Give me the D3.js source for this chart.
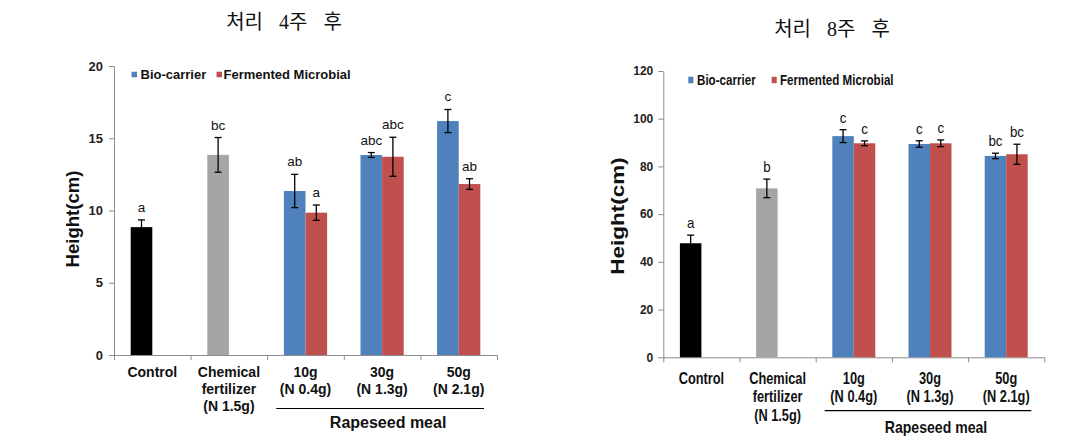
<!DOCTYPE html>
<html>
<head>
<meta charset="utf-8">
<script src="https://cdn.jsdelivr.net/npm/d3@7"></script>
<style>
  html, body { margin: 0; padding: 0; background: #fff; }
  svg { display: block; }
  text { font-family: "Liberation Sans", Arial, sans-serif; }
</style>
</head>
<body>
<svg id="chart" width="1084" height="443"></svg>
<script>
// ---------------- DATA ----------------
const categories = ["Control", "Chemical fertilizer (N 1.5g)", "10g (N 0.4g)", "30g (N 1.3g)", "50g (N 2.1g)"];
const categoryLines = [["Control"], ["Chemical", "fertilizer", "(N 1.5g)"], ["10g", "(N 0.4g)"], ["30g", "(N 1.3g)"], ["50g", "(N 2.1g)"]];
const seriesNames = ["Bio-carrier", "Fermented Microbial"];
const groupLabel = "Rapeseed meal";
const axisTitle = "Height(cm)";

// After 4 weeks
const week4Title = "처리 4주 후";
const week4Ticks = [0, 5, 10, 15, 20];
const week4Single = [8.85, 13.85];          // Control, Chemical fertilizer
const week4SingleErr = [0.5, 1.2];
const week4SingleLetter = ["a", "bc"];
const week4Bio = [11.35, 13.84, 16.19];     // 10g, 30g, 50g
const week4BioErr = [1.15, 0.17, 0.8];
const week4BioLetter = ["ab", "abc", "c"];
const week4Ferm = [9.85, 13.72, 11.83];
const week4FermErr = [0.53, 1.35, 0.37];
const week4FermLetter = ["a", "abc", "ab"];

// After 8 weeks
const week8Title = "처리 8주 후";
const week8Ticks = [0, 20, 40, 60, 80, 100, 120];
const week8Single = [47.8, 70.8];
const week8SingleErr = [3.4, 3.9];
const week8SingleLetter = ["a", "b"];
const week8Bio = [92.7, 89.4, 84.4];
const week8BioErr = [2.7, 1.35, 1.15];
const week8BioLetter = ["c", "c", "bc"];
const week8Ferm = [89.7, 89.7, 85.1];
const week8FermErr = [1.0, 1.4, 4.2];
const week8FermLetter = ["c", "c", "bc"];

// ---------------- STYLE ----------------
const colors = { single: ["#000000", "#A5A5A5"], bio: "#4F81BD", ferm: "#C0504D" };

const svg = d3.select("#chart");

function buildRows(single, singleErr, singleLetter, bio, bioErr, bioLetter, ferm, fermErr, fermLetter) {
  const rows = [];
  single.forEach((v, i) => rows.push({ cat: categories[i], slot: 0, value: v, err: singleErr[i], letter: singleLetter[i], color: colors.single[i] }));
  bio.forEach((v, i) => rows.push({ cat: categories[i + 2], slot: 0, value: v, err: bioErr[i], letter: bioLetter[i], color: colors.bio }));
  ferm.forEach((v, i) => rows.push({ cat: categories[i + 2], slot: 1, value: v, err: fermErr[i], letter: fermLetter[i], color: colors.ferm }));
  return rows;
}

function drawPanel(cfg) {
  const g = svg.append("g");
  const x = d3.scaleBand().domain(categories).range([cfg.x0, cfg.x1]).paddingInner(0).paddingOuter(0);
  const sub = d3.scaleBand().domain([0, 1]).range([0, x.bandwidth()]).paddingInner(0).paddingOuter(0.773);
  const y = d3.scaleLinear().domain([0, d3.max(cfg.ticks)]).range([cfg.yBot, cfg.yTop]);

  // title
  g.append("text")
    .attr("x", cfg.titleX).attr("y", cfg.titleY)
    .attr("text-anchor", "middle")
    .style("font-family", "'Liberation Serif', 'Noto Sans CJK KR', serif")
    .style("font-size", "20px")
    .style("word-spacing", "11px")
    .style("fill", "#111")
    .text(cfg.title);

  // y axis
  const yAxis = g.append("g").attr("transform", `translate(${cfg.x0},0)`)
    .call(d3.axisLeft(y).tickValues(cfg.ticks).tickSizeInner(5).tickSizeOuter(0).tickPadding(cfg.tickPad));
  yAxis.select(".domain").attr("stroke", "#8c8c8c");
  yAxis.selectAll(".tick line").attr("stroke", "#8c8c8c");
  yAxis.selectAll(".tick text")
    .style("font-size", cfg.tickFont + "px").style("font-weight", "bold").style("fill", "#222")
    .style("font-family", "'Liberation Sans', Arial, sans-serif");

  // x axis (boundary ticks)
  const xb = d3.scaleLinear().domain([0, categories.length]).range([cfg.x0, cfg.x1]);
  const xAxis = g.append("g").attr("transform", `translate(0,${cfg.yBot})`)
    .call(d3.axisBottom(xb).tickValues(d3.range(categories.length + 1)).tickFormat("").tickSizeInner(5).tickSizeOuter(0));
  xAxis.select(".domain").attr("stroke", "#8c8c8c");
  xAxis.selectAll(".tick line").attr("stroke", "#8c8c8c");

  // y title
  g.append("text")
    .attr("transform", `translate(${cfg.yTitleX},${cfg.yTitleY}) rotate(-90) scale(${cfg.yTitleStretch},1)`)
    .attr("text-anchor", "middle")
    .attr("dy", "0.35em")
    .style("font-size", "18px").style("font-weight", "bold").style("fill", "#111")
    .text(axisTitle);

  // bars
  const rows = cfg.rows;
  g.selectAll("rect.bar").data(rows).enter().append("rect")
    .attr("class", "bar")
    .attr("x", d => x(d.cat) + sub(d.slot))
    .attr("width", sub.bandwidth())
    .attr("y", d => y(d.value))
    .attr("height", d => y(0) - y(d.value))
    .attr("fill", d => d.color);

  // error bars
  const cap = 3.5;
  const eb = g.selectAll("g.err").data(rows).enter().append("g").attr("class", "err")
    .attr("stroke", "#000").attr("stroke-width", 1.3);
  eb.append("line")
    .attr("x1", d => x(d.cat) + sub(d.slot) + sub.bandwidth() / 2)
    .attr("x2", d => x(d.cat) + sub(d.slot) + sub.bandwidth() / 2)
    .attr("y1", d => y(d.value + d.err)).attr("y2", d => y(d.value - d.err));
  eb.append("line")
    .attr("x1", d => x(d.cat) + sub(d.slot) + sub.bandwidth() / 2 - cap)
    .attr("x2", d => x(d.cat) + sub(d.slot) + sub.bandwidth() / 2 + cap)
    .attr("y1", d => y(d.value + d.err)).attr("y2", d => y(d.value + d.err));
  eb.append("line")
    .attr("x1", d => x(d.cat) + sub(d.slot) + sub.bandwidth() / 2 - cap)
    .attr("x2", d => x(d.cat) + sub(d.slot) + sub.bandwidth() / 2 + cap)
    .attr("y1", d => y(d.value - d.err)).attr("y2", d => y(d.value - d.err));

  // letters
  g.selectAll("text.letter").data(rows).enter().append("text")
    .attr("class", "letter")
    .attr("transform", d => `translate(${x(d.cat) + sub(d.slot) + sub.bandwidth() / 2},${y(d.value + d.err) - cfg.letterGap}) scale(${cfg.letterSx},1)`)
    .attr("text-anchor", "middle")
    .style("font-size", cfg.letterFont + "px").style("fill", "#111")
    .text(d => d.letter);

  // x category labels
  categoryLines.forEach((lines, i) => {
    const cx = x(categories[i]) + x.bandwidth() / 2;
    lines.forEach((ln, j) => {
      g.append("text")
        .attr("transform", `translate(${cx},${cfg.xLabY + j * cfg.xLabStep}) scale(${cfg.xLabSx},1)`)
        .attr("text-anchor", "middle")
        .style("font-size", cfg.xLabFont + "px").style("font-weight", "bold").style("fill", "#111")
        .text(ln);
    });
  });

  // group line + label
  const gx0 = x(categories[2]), gx1 = x(categories[4]) + x.bandwidth();
  g.append("line").attr("x1", gx0 + 9).attr("x2", gx1 - 13)
    .attr("y1", cfg.groupLineY).attr("y2", cfg.groupLineY)
    .attr("stroke", "#000").attr("stroke-width", 1.2);
  g.append("text")
    .attr("transform", `translate(${(gx0 + gx1) / 2 + 6},${cfg.groupLabY}) scale(${cfg.groupSx},1)`)
    .attr("text-anchor", "middle")
    .style("font-size", "16px").style("font-weight", "bold").style("fill", "#111")
    .text(groupLabel);

  // legend
  const legColors = [colors.bio, colors.ferm];
  seriesNames.forEach((s, i) => {
    g.append("rect").attr("x", cfg.legSq[i]).attr("y", cfg.legY - cfg.legSqH / 2)
      .attr("width", cfg.legSqW).attr("height", cfg.legSqH).attr("fill", legColors[i]);
    g.append("text")
      .attr("transform", `translate(${cfg.legTx[i]},${cfg.legY + cfg.legBase}) scale(${cfg.legSx},1)`)
      .style("font-size", cfg.legFont + "px").style("font-weight", "bold").style("fill", "#111")
      .text(s);
  });
}

drawPanel({
  title: week4Title, titleX: 284, titleY: 29,
  x0: 114, x1: 497, yTop: 66, yBot: 355, ticks: week4Ticks,
  tickFont: 13, tickPad: 6,
  yTitleX: 73, yTitleY: 219, yTitleStretch: 1.03,
  rows: buildRows(week4Single, week4SingleErr, week4SingleLetter, week4Bio, week4BioErr, week4BioLetter, week4Ferm, week4FermErr, week4FermLetter),
  letterGap: 8, letterFont: 13.5, letterSx: 1,
  xLabY: 376.5, xLabStep: 17, xLabFont: 14, xLabSx: 1,
  groupLineY: 408.5, groupLabY: 427.5, groupSx: 1,
  legY: 74.5, legSq: [131.5, 216.5], legTx: [140.5, 223.5], legSqW: 5.5, legSqH: 5.5, legBase: 4.6, legFont: 13, legSx: 1
});

drawPanel({
  title: week8Title, titleX: 832, titleY: 36,
  x0: 663.3, x1: 1044.3, yTop: 71, yBot: 357.3, ticks: week8Ticks,
  tickFont: 12, tickPad: 5,
  yTitleX: 618, yTitleY: 216, yTitleStretch: 1.25,
  rows: buildRows(week8Single, week8SingleErr, week8SingleLetter, week8Bio, week8BioErr, week8BioLetter, week8Ferm, week8FermErr, week8FermLetter),
  letterGap: 7, letterFont: 14.5, letterSx: 0.92,
  xLabY: 384, xLabStep: 18.3, xLabFont: 16, xLabSx: 0.8,
  groupLineY: 410.7, groupLabY: 432.5, groupSx: 0.88,
  legY: 80, legSq: [688.3, 771.7], legTx: [697, 780], legSqW: 5, legSqH: 6.5, legBase: 5, legFont: 14, legSx: 0.83
});
</script>
</body>
</html>
